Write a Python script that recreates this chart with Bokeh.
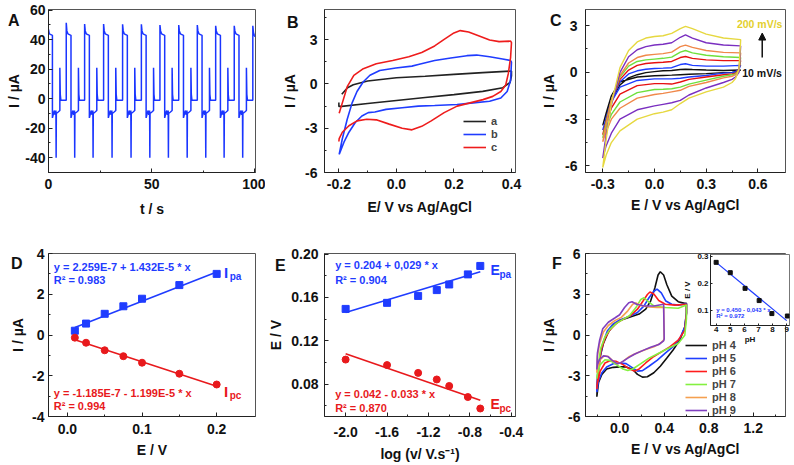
from bokeh.plotting import figure
from bokeh.models import (Range1d, Label, Legend, LegendItem, GridBox, FixedTicker,
                          NumeralTickFormatter, Arrow, NormalHead, Div)
from bokeh.embed import file_html
from bokeh.resources import INLINE

FONT = "Liberation Sans"

# ---------------- Panel A: current vs time ----------------
A_T = ([0.0, 0.4, 1.9, 1.9, 2.6, 2.9, 3.2, 3.6, 3.7, 3.8, 4.7, 5.5, 5.5, 5.7, 6.0]
       + [8.6, 8.6, 8.9, 9.4, 10.9, 10.9, 11.6, 11.9, 12.2, 12.6, 12.7, 12.8, 13.7, 14.5, 14.5, 14.7, 15.0]
       + [17.5, 17.5, 17.8, 18.3, 19.8, 19.8, 20.5, 20.8, 21.1, 21.5, 21.6, 21.7, 22.6, 23.4, 23.4, 23.6, 23.9]
       + [26.7, 26.7, 27.0, 27.5, 29.0, 29.0, 29.7, 30.0, 30.3, 30.7, 30.8, 30.9, 31.8, 32.6, 32.6, 32.8, 33.1]
       + [35.9, 35.9, 36.2, 36.7, 38.2, 38.2, 38.9, 39.2, 39.5, 39.9, 40.0, 40.1, 41.0, 41.8, 41.8, 42.0, 42.3]
       + [45.0, 45.0, 45.3, 45.8, 47.3, 47.3, 48.0, 48.3, 48.6, 49.0, 49.1, 49.2, 50.1, 50.9, 50.9, 51.1, 51.4]
       + [54.0, 54.0, 54.3, 54.8, 56.3, 56.3, 57.0, 57.3, 57.6, 58.0, 58.1, 58.2, 59.1, 59.9, 59.9, 60.1, 60.4]
       + [63.1, 63.1, 63.4, 63.9, 65.4, 65.4, 66.1, 66.4, 66.7, 67.1, 67.2, 67.3, 68.2, 69.0, 69.0, 69.2, 69.5]
       + [72.1, 72.1, 72.4, 72.9, 74.4, 74.4, 75.1, 75.4, 75.7, 76.1, 76.2, 76.3, 77.2, 78.0, 78.0, 78.2, 78.5]
       + [81.0, 81.0, 81.3, 81.8, 83.3, 83.3, 84.0, 84.3, 84.6, 85.0, 85.1, 85.2, 86.1, 86.9, 86.9, 87.1, 87.4]
       + [90.0, 90.0, 90.3, 90.8, 92.3, 92.3, 93.0, 93.3, 93.6, 94.0, 94.1, 94.2, 95.1, 95.9, 95.9, 96.1, 96.4]
       + [99.0, 99.0, 99.3, 99.7, 100.0])
A_I = ([47, 44, 43, -13, -9, -8, -11, -8, -40, -10, -9, -8, 21, 3, -1]
       + [-1, 51.5, 46, 44, 43, -13, -9, -8, -11, -8, -40, -10, -9, -8, 21, 3, -1]
       + [-1, 50.7, 46, 44, 43, -13, -9, -8, -11, -8, -40, -10, -9, -8, 21, 3, -1]
       + [-1, 50.7, 46, 44, 43, -13, -9, -8, -11, -8, -40, -10, -9, -8, 21, 3, -1]
       + [-1, 50.5, 46, 44, 43, -13, -9, -8, -11, -8, -40, -10, -9, -8, 21, 3, -1]
       + [-1, 50.5, 46, 44, 43, -13, -9, -8, -11, -8, -40, -10, -9, -8, 21, 3, -1]
       + [-1, 50.0, 46, 44, 43, -13, -9, -8, -11, -8, -40, -10, -9, -8, 21, 3, -1]
       + [-1, 50.0, 46, 44, 43, -13, -9, -8, -11, -8, -40, -10, -9, -8, 21, 3, -1]
       + [-1, 50.0, 46, 44, 43, -13, -9, -8, -11, -8, -40, -10, -9, -8, 21, 3, -1]
       + [-1, 49.5, 46, 44, 43, -13, -9, -8, -11, -8, -40, -10, -9, -8, 21, 3, -1]
       + [-1, 49.5, 46, 44, 43, -13, -9, -8, -11, -8, -40, -10, -9, -8, 21, 3, -1]
       + [-1, 49.5, 45, 43, 42])
A_XTICKS = [0, 50, 100]
A_XMINOR = [25, 75]
A_YTICKS = [-40, -20, 0, 20, 40, 60]
A_YMINOR = [-50, -30, -10, 10, 30, 50]

# ---------------- Panel B: CVs a, b, c ----------------
B_A_E = [-0.19, -0.17, -0.15, -0.10, 0.00, 0.10, 0.20, 0.30, 0.40, 0.40, 0.395, 0.37, 0.30, 0.20,
         0.10, 0.00, -0.10, -0.19, -0.20, -0.20]
B_A_I = [-0.70, -0.25, -0.05, 0.20, 0.42, 0.53, 0.65, 0.77, 0.88, 0.55, 0.10, -0.25, -0.50, -0.72,
         -0.92, -1.12, -1.32, -1.52, -1.52, -1.25]
B_B_E = [-0.199, -0.188, -0.171, -0.154, -0.137, -0.115, -0.092, -0.058, -0.002, 0.054, 0.076, 0.133,
         0.189, 0.245, 0.279, 0.324, 0.369, 0.397, 0.400, 0.397, 0.385, 0.363, 0.324, 0.267, 0.211,
         0.133, 0.076, 0.020, -0.036, -0.075, -0.098, -0.120, -0.143, -0.165, -0.182, -0.199]
B_B_I = [-4.77, -3.71, -2.39, -1.28, -0.51, 0.15, 0.59, 0.92, 1.08, 1.21, 1.32, 1.59,
         1.76, 1.92, 1.96, 1.85, 1.70, 1.59, 1.48, 0.26, -0.51, -0.95, -1.17, -1.28, -1.39,
         -1.46, -1.50, -1.61, -1.72, -1.90, -1.94, -2.17, -2.61, -3.27, -3.93, -4.77]
B_C_E = [-0.199, -0.188, -0.171, -0.148, -0.115, -0.070, -0.013, 0.043, 0.088, 0.133, 0.166, 0.200,
         0.222, 0.251, 0.290, 0.324, 0.357, 0.397, 0.400, 0.397, 0.389, 0.380, 0.363, 0.335, 0.301,
         0.256, 0.211, 0.166, 0.121, 0.088, 0.054, 0.020, -0.025, -0.070, -0.103, -0.137, -0.165,
         -0.188, -0.199, -0.200]
B_C_I = [-1.99, -1.28, -0.18, 0.59, 1.04, 1.37, 1.59, 1.85, 2.14, 2.58, 3.02, 3.46,
         3.62, 3.53, 3.24, 2.98, 2.87, 2.91, 2.80, 1.81, 0.70, -0.07, -0.51, -0.84, -1.06,
         -1.28, -1.50, -1.94, -2.50, -2.87, -3.11, -3.00, -2.72, -2.43, -2.39, -2.50, -2.83,
         -3.27, -3.71, -3.90]
B_NAMES = ["a", "b", "c"]
B_XTICKS = [-0.2, 0.0, 0.2, 0.4]
B_XMINOR = [-0.1, 0.1, 0.3]
B_YTICKS = [-6, -3, 0, 3]
B_YMINOR = [-4.5, -1.5, 1.5, 4.5]

# ---------------- Panel C: scan rates 10 ... 200 mV/s ----------------
C_E_FWD = [-0.30, -0.28, -0.25, -0.20, -0.15, -0.10, -0.05, 0.00, 0.05, 0.10, 0.15, 0.18, 0.22, 0.30, 0.40, 0.50]
C_E_REV = [0.50, 0.49, 0.47, 0.45, 0.40, 0.30, 0.20, 0.15, 0.10, 0.05, 0.00, -0.10, -0.20, -0.25, -0.28, -0.30]
C_BLACK_FWD = [-3.40, -2.70, -1.80, -0.80, -0.35, -0.15, -0.02, 0.05, 0.10, 0.12, 0.18, 0.20, 0.18, 0.15, 0.12, 0.15]
C_BLUE_FWD = [-3.70, -2.90, -1.80, -0.60, -0.10, 0.10, 0.20, 0.25, 0.27, 0.30, 0.50, 0.55, 0.45, 0.40, 0.40, 0.45]
C_RED_FWD = [-4.00, -3.10, -1.80, -0.45, 0.15, 0.45, 0.57, 0.62, 0.65, 0.70, 0.95, 1.02, 0.90, 0.80, 0.75, 0.75]
C_GREEN_FWD = [-4.20, -3.20, -1.80, -0.30, 0.40, 0.70, 0.80, 0.85, 0.90, 0.98, 1.30, 1.40, 1.25, 1.10, 1.00, 0.95]
C_ORANGE_FWD = [-4.45, -3.30, -1.80, -0.20, 0.60, 0.95, 1.10, 1.15, 1.20, 1.30, 1.65, 1.75, 1.60, 1.40, 1.28, 1.25]
C_PURPLE_FWD = [-5.50, -4.00, -2.10, 0.00, 1.00, 1.45, 1.65, 1.75, 1.80, 1.90, 2.25, 2.40, 2.20, 1.90, 1.75, 1.70]
C_YELLOW_FWD = [-6.10, -4.30, -2.00, 0.30, 1.40, 1.95, 2.20, 2.30, 2.35, 2.50, 2.80, 2.95, 2.80, 2.45, 2.20, 2.10]
C_BLACK_REV = [0.15, 0.10, 0.05, 0.00, -0.02, -0.08, -0.12, -0.15, -0.18, -0.20, -0.22, -0.30, -0.60, -1.50, -2.60, -3.40]
C_BLUE_REV = [0.45, 0.20, 0.05, -0.02, -0.05, -0.20, -0.30, -0.38, -0.42, -0.42, -0.42, -0.52, -0.95, -1.90, -2.90, -3.70]
C_RED_REV = [0.75, 0.20, -0.05, -0.10, -0.15, -0.30, -0.45, -0.62, -0.75, -0.72, -0.72, -0.85, -1.40, -2.30, -3.20, -4.00]
C_GREEN_REV = [0.95, 0.15, -0.10, -0.15, -0.25, -0.50, -0.75, -0.95, -1.05, -1.08, -1.10, -1.30, -1.90, -2.70, -3.50, -4.20]
C_ORANGE_REV = [1.25, 0.10, -0.15, -0.25, -0.35, -0.65, -0.90, -1.15, -1.25, -1.35, -1.42, -1.65, -2.30, -3.00, -3.80, -4.45]
C_PURPLE_REV = [1.70, 0.00, -0.30, -0.45, -0.65, -1.00, -1.45, -1.80, -1.95, -2.05, -2.15, -2.40, -3.00, -3.90, -4.70, -5.50]
C_YELLOW_REV = [2.10, 0.20, -0.40, -0.65, -0.95, -1.25, -1.65, -2.00, -2.40, -2.55, -2.65, -3.00, -3.75, -4.50, -5.30, -6.10]
C_XTICKS = [-0.3, 0.0, 0.3, 0.6]
C_XMINOR = [-0.15, 0.15, 0.45]
C_YTICKS = [-6, -3, 0, 3]
C_YMINOR = [-4.5, -1.5, 1.5]

# ---------------- Panel D: peak currents ----------------
D_E = [0.01, 0.025, 0.05, 0.075, 0.10, 0.15, 0.20]
D_IPA = [0.21, 0.56, 1.04, 1.41, 1.78, 2.45, 3.00]
D_IPC = [-0.13, -0.38, -0.75, -1.04, -1.36, -1.90, -2.43]
D_FIT_PA = (0.2259, 14.32)     # µA, µA/V
D_FIT_PC = (-0.1185, -11.99)
D_XTICKS = [0.0, 0.1, 0.2]
D_XMINOR = [0.05, 0.15]
D_YTICKS = [-4, -2, 0, 2, 4]
D_YMINOR = [-3, -1, 1, 3]

# ---------------- Panel E: peak potentials vs log v ----------------
E_LOGV = [-2.0, -1.6, -1.3, -1.12, -1.0, -0.82, -0.70]
E_EPA = [0.1494, 0.1550, 0.1614, 0.1668, 0.1720, 0.1813, 0.1891]
E_EPC = [0.1026, 0.0975, 0.0903, 0.0842, 0.0782, 0.0680, 0.0574]
E_FIT_PA = (0.204, 0.029)
E_FIT_PC = (0.042, -0.033)
E_XTICKS = [-2.0, -1.6, -1.2, -0.8, -0.4]
E_XMINOR = [-1.8, -1.4, -1.0, -0.6]
E_YTICKS = [0.08, 0.12, 0.16, 0.20]
E_YMINOR = [0.06, 0.10, 0.14, 0.18]

# ---------------- Panel F: pH dependence ----------------
F_PH4_E = [-0.205, -0.20, -0.19, -0.175, -0.146, -0.102, -0.058, 0.0, 0.088, 0.175, 0.234, 0.278, 0.316, 0.345,
           0.365, 0.395, 0.424, 0.468, 0.526, 0.585, 0.60, 0.60, 0.585, 0.54, 0.48, 0.424, 0.365, 0.307, 0.249,
           0.205, 0.16, 0.117, 0.058, 0.0, -0.058, -0.117, -0.16, -0.19, -0.205]
F_PH4_I = [-4.54, -3.5, -2.54, -1.58, -0.62, 0.22, 0.70, 1.06, 1.30, 1.54, 1.90, 2.5, 3.46, 4.42,
           4.66, 4.42, 3.7, 2.86, 2.45, 2.33, 2.33, 1.6, 0.58, -0.38, -1.1, -1.7, -2.3, -2.78, -3.07,
           -3.1, -2.9, -2.54, -2.35, -2.35, -2.38, -2.5, -2.9, -3.5, -4.54]
F_PH5_E = [-0.205, -0.20, -0.18, -0.152, -0.111, -0.058, 0.0, 0.088, 0.16, 0.219, 0.263, 0.307, 0.336, 0.374,
           0.415, 0.468, 0.526, 0.60, 0.60, 0.585, 0.54, 0.48, 0.41, 0.336, 0.263, 0.205, 0.16, 0.117, 0.058,
           0.0, -0.058, -0.117, -0.16, -0.19, -0.205]
F_PH5_I = [-4.2, -3.0, -1.8, -0.62, 0.29, 0.82, 1.10, 1.37, 1.66, 2.14, 2.74, 3.22, 3.38, 3.10,
           2.50, 2.26, 2.20, 2.30, 1.66, 0.58, -0.26, -0.86, -1.34, -1.87, -2.30, -2.62, -2.66, -2.42, -2.11,
           -2.06, -2.11, -2.35, -2.78, -3.38, -4.2]
F_PH6_E = [-0.205, -0.19, -0.167, -0.132, -0.088, -0.03, 0.03, 0.102, 0.16, 0.21, 0.249, 0.272, 0.307, 0.351,
           0.41, 0.497, 0.60, 0.60, 0.585, 0.526, 0.453, 0.38, 0.307, 0.234, 0.175, 0.132, 0.088, 0.03, -0.03,
           -0.088, -0.132, -0.175, -0.205]
F_PH6_I = [-3.98, -2.54, -1.10, -0.26, 0.38, 0.86, 1.15, 1.46, 1.90, 2.50, 2.98, 3.17, 3.02, 2.54,
           2.26, 2.20, 2.26, 1.54, 0.34, -0.38, -0.86, -1.22, -1.58, -2.06, -2.50, -2.66, -2.50, -2.18, -1.94,
           -1.90, -2.06, -2.66, -3.74]
F_PH7_E = [-0.205, -0.19, -0.17, -0.132, -0.088, -0.03, 0.03, 0.088, 0.146, 0.19, 0.219, 0.257, 0.307, 0.41,
           0.526, 0.60, 0.60, 0.585, 0.526, 0.439, 0.351, 0.263, 0.19, 0.117, 0.073, 0.03, -0.03, -0.088,
           -0.132, -0.175, -0.20, -0.205]
F_PH7_I = [-3.22, -2.06, -0.98, -0.14, 0.41, 0.86, 1.15, 1.42, 2.02, 2.62, 2.74, 2.45, 2.14, 2.02,
           1.97, 2.21, 1.20, -0.02, -0.62, -0.98, -1.34, -1.70, -2.11, -2.50, -2.62, -2.50, -2.18, -1.87,
           -1.82, -2.18, -2.90, -3.22]
F_PH8_E = [-0.205, -0.20, -0.18, -0.146, -0.102, -0.044, 0.015, 0.073, 0.117, 0.146, 0.19, 0.263, 0.336, 0.395,
           0.40, 0.395, 0.365, 0.307, 0.234, 0.16, 0.088, 0.03, -0.015, -0.058, -0.102, -0.14, -0.175, -0.20, -0.205]
F_PH8_I = [-2.78, -1.58, -0.62, 0.22, 0.70, 1.06, 1.30, 1.78, 2.26, 2.35, 2.18, 2.06, 2.02, 2.02,
           -0.20, -0.38, -0.62, -0.86, -1.06, -1.30, -1.58, -1.94, -2.11, -1.94, -1.58, -1.54, -1.82, -2.42, -2.78]
F_PH9_E = [-0.205, -0.20, -0.18, -0.152, -0.102, -0.044, 0.0, 0.044, 0.082, 0.111, 0.152, 0.219, 0.307, 0.395,
           0.40, 0.395, 0.351, 0.278, 0.205, 0.132, 0.073, 0.015, -0.023, -0.067, -0.108, -0.146, -0.18, -0.20, -0.205]
F_PH9_I = [-2.54, -1.34, -0.38, 0.46, 0.94, 1.25, 1.49, 2.02, 2.38, 2.45, 2.26, 2.14, 2.14, 2.26,
           -0.30, -0.43, -0.70, -0.91, -1.15, -1.42, -1.70, -2.02, -2.11, -1.87, -1.58, -1.54, -1.78, -2.18, -2.54]
F_NAMES = ["pH 4", "pH 5", "pH 6", "pH 7", "pH 8", "pH 9"]
F_XTICKS = [0.0, 0.4, 0.8, 1.2]
F_XMINOR = [-0.2, 0.2, 0.6, 1.0, 1.4]
F_YTICKS = [-6, -3, 0, 3, 6]
F_YMINOR = [-4.5, -1.5, 1.5, 4.5]

# inset of F
IN_PH = [4.0, 5.0, 6.05, 7.05, 7.95, 9.05]
IN_E = [0.278, 0.240, 0.182, 0.137, 0.089, 0.080]
IN_FIT = (0.450, -0.043)
IN_XTICKS = [4, 5, 6, 7, 8, 9]
IN_YTICKS = [0.1, 0.2, 0.3]

PANEL_LETTERS = ["A", "B", "C", "D", "E", "F"]

BLUE = "#1f3cff"
RED = "#e8191c"


def make_fig(w, h, xr, yr, bl, br, bt, bb):
    p = figure(width=w, height=h, x_range=Range1d(*xr), y_range=Range1d(*yr),
               output_backend="svg", toolbar_location=None,
               min_border_left=bl, min_border_right=br, min_border_top=bt, min_border_bottom=bb)
    p.grid.grid_line_color = None
    p.outline_line_color = "#555555"
    p.outline_line_width = 1
    return p


def style(p, xt, xm, yt, ym, xfmt, yfmt, xlabel, ylabel, tick="14px", lab="14px",
          xls=5, xas=4, yls=4, yas=3):
    p.xaxis.ticker = FixedTicker(ticks=xt, minor_ticks=xm)
    p.yaxis.ticker = FixedTicker(ticks=yt, minor_ticks=ym)
    p.xaxis.formatter = NumeralTickFormatter(format=xfmt)
    p.yaxis.formatter = NumeralTickFormatter(format=yfmt)
    p.xaxis.axis_label = xlabel
    p.yaxis.axis_label = ylabel
    for ax in (p.xaxis[0], p.yaxis[0]):
        ax.major_tick_in = 4
        ax.major_tick_out = 0
        ax.minor_tick_in = 2
        ax.minor_tick_out = 0
        ax.axis_line_color = "#222222"
        ax.major_tick_line_color = "#222222"
        ax.minor_tick_line_color = "#222222"
        ax.major_label_text_font = FONT
        ax.major_label_text_font_style = "bold"
        ax.major_label_text_font_size = tick
        ax.major_label_text_color = "#111111"
        ax.axis_label_text_font = FONT
        ax.axis_label_text_font_style = "bold"
        ax.axis_label_text_font_size = lab
        ax.axis_label_text_color = "#111111"
    p.xaxis.major_label_standoff = xls
    p.xaxis.axis_label_standoff = xas
    p.yaxis.major_label_standoff = yls
    p.yaxis.axis_label_standoff = yas


def text(p, x, y, s, size="11px", color="#111111", align="left", baseline="middle"):
    p.add_layout(Label(x=x, y=y, text=s, text_font=FONT, text_font_style="bold",
                       text_font_size=size, text_color=color, text_align=align,
                       text_baseline=baseline))


# ---------------- A ----------------
pA = make_fig(265, 230, (0, 100.3), (-50, 60.5), 48, 10, 9, 57)
style(pA, A_XTICKS, A_XMINOR, A_YTICKS, A_YMINOR, "0", "0", "t / s", "I / µA", xls=6, xas=9, yls=3, yas=0)
pA.line(A_T, A_I, line_color="#1a35ff", line_width=1.5)

# ---------------- B ----------------
pB = make_fig(265, 230, (-0.25, 0.414), (-6, 5.05), 53, 15, 6, 57)
style(pB, B_XTICKS, B_XMINOR, B_YTICKS, B_YMINOR, "0.0", "0", "E/ V vs Ag/AgCl", "I / µA",
      xls=6, xas=7, yls=7, yas=4)
rBa = pB.line(B_A_E, B_A_I, line_color="#222222", line_width=1.6)
rBb = pB.line(B_B_E, B_B_I, line_color="#1f3cff", line_width=1.6)
rBc = pB.line(B_C_E, B_C_I, line_color="#ee1c1c", line_width=1.6)
legB = Legend(items=[LegendItem(label=n, renderers=[r]) for n, r in zip(B_NAMES, [rBa, rBb, rBc])],
              location=(139, 19), border_line_color=None, background_fill_alpha=0,
              padding=0, margin=0, spacing=1, glyph_width=23, glyph_height=12, label_height=12,
              label_standoff=5, label_text_font=FONT, label_text_font_style="bold",
              label_text_font_size="11px")
pB.add_layout(legB)

# ---------------- C ----------------
pC = make_fig(263, 230, (-0.40, 0.76), (-6.42, 4.03), 54, 8, 6, 58)
style(pC, C_XTICKS, C_XMINOR, C_YTICKS, C_YMINOR, "0.0", "0", "E / V vs Ag/AgCl", "I / µA",
      xls=6, xas=5, yls=8, yas=5)
C_FWD = [C_BLACK_FWD, C_BLUE_FWD, C_RED_FWD, C_GREEN_FWD, C_ORANGE_FWD, C_PURPLE_FWD, C_YELLOW_FWD]
C_REV = [C_BLACK_REV, C_BLUE_REV, C_RED_REV, C_GREEN_REV, C_ORANGE_REV, C_PURPLE_REV, C_YELLOW_REV]
C_COLORS = ["#111111", "#1e3cff", "#e61010", "#6ee03c", "#f0884a", "#7a2fc0", "#e6d840"]
for fw, rv, col in zip(C_FWD, C_REV, C_COLORS):
    pC.line(C_E_FWD + C_E_REV, fw + rv, line_color=col, line_width=1.4)
text(pC, 0.478, 3.08, "200 mV/s", size="10.5px", color="#e3cf2e")
text(pC, 0.509, -0.04, "10 mV/s", size="10.5px", color="#111111")
pC.add_layout(Arrow(end=NormalHead(size=7, fill_color="#111111", line_color="#111111"),
                    x_start=0.625, y_start=0.96, x_end=0.625, y_end=2.52,
                    line_color="#111111", line_width=1.5))

# ---------------- D ----------------
pD = make_fig(265, 234, (-0.0253, 0.252), (-4, 4), 47, 10, 23, 45)
style(pD, D_XTICKS, D_XMINOR, D_YTICKS, D_YMINOR, "0.0", "0", "E / V", "I / µA", xls=7, xas=5, yls=4, yas=3)
dx = [D_E[0], D_E[-1]]
pD.line(dx, [D_FIT_PA[0] + D_FIT_PA[1] * v for v in dx], line_color=BLUE, line_width=1.6)
pD.line(dx, [D_FIT_PC[0] + D_FIT_PC[1] * v for v in dx], line_color=RED, line_width=1.6)
pD.scatter(D_E, D_IPA, marker="square", size=7, color=BLUE)
pD.scatter(D_E, D_IPC, marker="circle", size=7, color=RED)
text(pD, -0.0183, 3.36, "y = 2.259E-7 + 1.432E-5 * x", color=BLUE)
text(pD, -0.0183, 2.69, "R² = 0.983", color=BLUE)
text(pD, 0.2097, 3.07, "I", size="15px", color=BLUE)
text(pD, 0.2175, 2.86, "pa", size="10px", color=BLUE)
text(pD, -0.0183, -2.83, "y = -1.185E-7 - 1.199E-5 * x", color=RED)
text(pD, -0.0183, -3.50, "R² = 0.994", color=RED)
text(pD, 0.2097, -2.76, "I", size="15px", color=RED)
text(pD, 0.2175, -2.95, "pc", size="10px", color=RED)

# ---------------- E ----------------
pE = make_fig(265, 234, (-2.204, -0.36), (0.05, 0.2006), 52, 6, 22, 46)
style(pE, E_XTICKS, E_XMINOR, E_YTICKS, E_YMINOR, "0.0", "0.00", "log (v/ V.s⁻¹)", "E / V",
      xls=10, xas=6, yls=6, yas=4)
ex = [E_LOGV[0], E_LOGV[-1]]
pE.line(ex, [E_FIT_PA[0] + E_FIT_PA[1] * v for v in ex], line_color=BLUE, line_width=1.6)
pE.line(ex, [E_FIT_PC[0] + E_FIT_PC[1] * v for v in ex], line_color=RED, line_width=1.6)
pE.scatter(E_LOGV, E_EPA, marker="square", size=7, color=BLUE)
pE.scatter(E_LOGV, E_EPC, marker="circle", size=7, color=RED)
text(pE, -2.101, 0.1899, "y = 0.204 + 0,029 * x", color=BLUE)
text(pE, -2.101, 0.1763, "R² = 0.904", color=BLUE)
text(pE, -0.602, 0.1858, "E", size="14px", color=BLUE)
text(pE, -0.515, 0.1810, "pa", size="10px", color=BLUE)
text(pE, -2.101, 0.0705, "y = 0.042 - 0.033 * x", color=RED)
text(pE, -2.101, 0.0574, "R² = 0.870", color=RED)
text(pE, -0.602, 0.0619, "E", size="14px", color=RED)
text(pE, -0.515, 0.0572, "pc", size="10px", color=RED)

# ---------------- F ----------------
pF = make_fig(263, 234, (-0.307, 1.49), (-6, 6), 55, 3, 23, 45)
style(pF, F_XTICKS, F_XMINOR, F_YTICKS, F_YMINOR, "0.0", "0", "E / V vs Ag/AgCl", "I / µA",
      xls=6, xas=5, yls=5, yas=8)
F_E = [F_PH4_E, F_PH5_E, F_PH6_E, F_PH7_E, F_PH8_E, F_PH9_E]
F_I = [F_PH4_I, F_PH5_I, F_PH6_I, F_PH7_I, F_PH8_I, F_PH9_I]
F_COLORS = ["#111111", "#1f3fff", "#ff1c1c", "#84f040", "#f5a050", "#8040c0"]
rF = []
for e, i, col in zip(F_E, F_I, F_COLORS):
    rF.append(pF.line(e, i, line_color=col, line_width=1.6))
legF = Legend(items=[LegendItem(label=n, renderers=[r]) for n, r in zip(F_NAMES, rF)],
              location=(100, 0), border_line_color=None, background_fill_alpha=0,
              padding=0, margin=0, spacing=1, glyph_width=22, glyph_height=12, label_height=12,
              label_standoff=5, label_text_font=FONT, label_text_font_style="bold",
              label_text_font_size="11px")
pF.add_layout(legF)

# ---------------- inset ----------------
pIn = figure(width=111, height=95, x_range=Range1d(3.6, 9.2), y_range=Range1d(0.045, 0.307),
             output_backend="svg", toolbar_location=None,
             min_border_left=25, min_border_right=2, min_border_top=3, min_border_bottom=19)
pIn.grid.grid_line_color = None
pIn.outline_line_color = "#777777"
pIn.border_fill_alpha = 0
pIn.background_fill_color = "white"
style(pIn, IN_XTICKS, [], IN_YTICKS, [], "0", "0.0", "pH", "E / V", tick="8px", lab="8px",
      xls=1, xas=0, yls=2, yas=2)
for ax in (pIn.xaxis[0], pIn.yaxis[0]):
    ax.major_tick_in = 2
ix = [IN_PH[0], 9.0]
pIn.line(ix, [IN_FIT[0] + IN_FIT[1] * v for v in ix], line_color=BLUE, line_width=1.2)
pIn.scatter(IN_PH, IN_E, marker="square", size=4, color="#111111")
text(pIn, 4.0, 0.102, "y = 0.450 - 0,043 * x", size="6px", color=BLUE)
text(pIn, 4.0, 0.081, "R² = 0.972", size="6px", color=BLUE)

# ---------------- panel letters (HTML overlay spanning the whole grid) ----------------
LETTER_X = [3, 282, 545, 6, 270, 547]
LETTER_Y = [7, 9, 7, 250, 252, 250]
spans = "".join(
    f'<span style="position:absolute;left:{x}px;top:{y}px;">{ch}</span>'
    for ch, x, y in zip(PANEL_LETTERS, LETTER_X, LETTER_Y))
letters = Div(text=(f'<div style="position:relative;width:793px;height:464px;'
                    f'font-family:\'{FONT}\';font-weight:bold;font-size:16px;line-height:normal;'
                    f'color:#111111;pointer-events:none;">{spans}</div>'),
              width=793, height=464)

grid = GridBox(children=[(pA, 0, 0, 1, 1), (pB, 0, 1, 1, 1), (pC, 0, 2, 1, 3),
                         (pD, 1, 0, 3, 1), (pE, 1, 1, 3, 1), (pF, 1, 2, 3, 3),
                         (pIn, 2, 3, 1, 1), (letters, 0, 0, 4, 5)],
               rows=["230px", "21px", "95px", "118px"],
               cols=["265px", "265px", "150px", "111px", "2px"], spacing=0)

open("out.html", "w").write(file_html(grid, INLINE))
